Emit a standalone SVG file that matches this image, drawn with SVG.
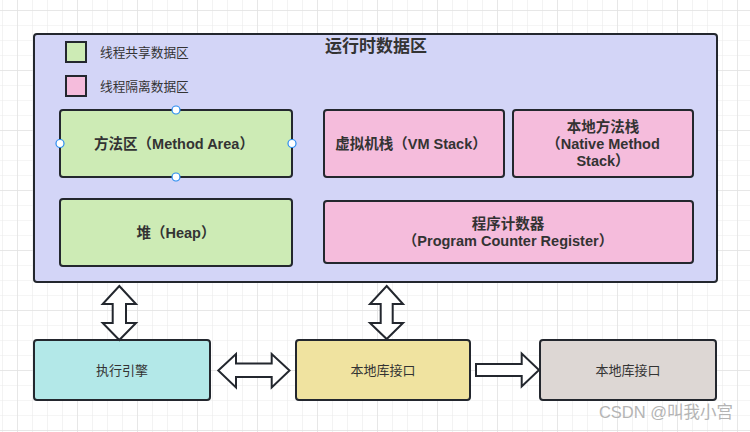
<svg xmlns="http://www.w3.org/2000/svg" width="750" height="432" viewBox="0 0 750 432">
<style>
.box{stroke:#23272e;stroke-width:2}
.arr{fill:#ffffff;stroke:#23272e;stroke-width:2;stroke-linejoin:miter}
.t{font-family:"Liberation Sans","Noto Sans CJK SC",sans-serif;fill:#333333;text-anchor:middle;dominant-baseline:central}
.b{font-weight:bold;font-size:14.5px}
.r{font-size:13px}
.lg{font-family:"Liberation Sans","Noto Sans CJK SC",sans-serif;fill:#333333;font-size:12.7px;dominant-baseline:central}
.h{fill:#ffffff;stroke:#2a8cf0;stroke-width:1.2}
</style>
<defs>
<pattern id="grid" x="2" y="10" width="15" height="15" patternUnits="userSpaceOnUse">
<path d="M0 0H15M0 0V15" fill="none" stroke="#ebebeb" stroke-width="1.2"/>
</pattern>
<pattern id="grid2" x="17" y="10" width="60" height="60" patternUnits="userSpaceOnUse">
<path d="M0 0H60M0 0V60" fill="none" stroke="#e2e2e2" stroke-width="1.4"/>
</pattern>
</defs>
<rect width="750" height="432" fill="#ffffff"/>
<rect width="750" height="432" fill="url(#grid)"/>
<rect width="750" height="432" fill="url(#grid2)"/>

<g id="runtime-data-area">
<rect class="box" x="34" y="34" width="683" height="248" rx="3" fill="#d3d5f7"/>
<text class="t" x="376" y="46" font-size="17" font-weight="bold">运行时数据区</text>
</g>

<g id="legend-shared">
<rect class="box" x="66" y="42" width="20" height="20" fill="#cdebb5"/>
<text class="lg" x="100" y="53">线程共享数据区</text>
</g>
<g id="legend-isolated">
<rect class="box" x="66" y="76" width="20" height="20" fill="#f5bcdc"/>
<text class="lg" x="100" y="87">线程隔离数据区</text>
</g>

<g id="method-area">
<rect class="box" x="60" y="110" width="232" height="67" rx="3" fill="#cdebb5"/>
<text class="t b" x="174" y="143.5">方法区（Method Area）</text>
<circle class="h" cx="176" cy="110" r="4"/>
<circle class="h" cx="60" cy="143.5" r="4"/>
<circle class="h" cx="292" cy="143.5" r="4"/>
<circle class="h" cx="176" cy="177" r="4"/>
</g>

<g id="vm-stack">
<rect class="box" x="324" y="110" width="180" height="67" rx="3" fill="#f5bcdc"/>
<text class="t b" x="411" y="143.5">虚拟机栈（VM Stack）</text>
</g>

<g id="native-method-stack">
<rect class="box" x="513" y="110" width="180" height="67" rx="3" fill="#f5bcdc"/>
<text class="t b" x="603" y="127">本地方法栈</text>
<text class="t b" x="603" y="144">（Native Method</text>
<text class="t b" x="603" y="161">Stack）</text>
</g>

<g id="heap">
<rect class="box" x="60" y="199" width="232" height="67" rx="3" fill="#cdebb5"/>
<text class="t b" x="176" y="232.5">堆（Heap）</text>
</g>

<g id="pc-register">
<rect class="box" x="324" y="201" width="369" height="62" rx="3" fill="#f5bcdc"/>
<text class="t b" x="508" y="224">程序计数器</text>
<text class="t b" x="508" y="241">（Program Counter Register）</text>
</g>

<g id="execution-engine">
<rect class="box" x="34" y="340" width="176" height="60" rx="3" fill="#b3e8e8"/>
<text class="t r" x="122" y="370">执行引擎</text>
</g>

<g id="native-interface">
<rect class="box" x="296" y="340" width="174" height="60" rx="3" fill="#f0e3a0"/>
<text class="t r" x="383" y="370">本地库接口</text>
</g>

<g id="native-library">
<rect class="box" x="540" y="340" width="176" height="60" rx="3" fill="#ddd7d4"/>
<text class="t r" x="628" y="370">本地库接口</text>
</g>

<g id="connectors">
<path class="arr" d="M119.3 286 L136 304 L126 304 L126 323 L136 323 L119.3 340 L102.7 323 L112.7 323 L112.7 304 L102.7 304 Z"/>
<path class="arr" d="M386.7 286 L403 304 L392.7 304 L392.7 323 L403 323 L386.7 339 L370 323 L380.7 323 L380.7 304 L370 304 Z"/>
<path class="arr" d="M218.3 370.5 L236 354 L236 363.5 L271.7 363.5 L271.7 354 L289.5 370.5 L271.7 387.5 L271.7 377 L236 377 L236 387.5 Z"/>
<path class="arr" d="M476 364 L521.7 364 L521.7 353.5 L539 370 L521.7 386.5 L521.7 376 L476 376 Z"/>
</g>

<text x="666" y="412" font-family="Liberation Sans,'Noto Sans CJK SC',sans-serif" font-size="16.5" fill="#b4b4b4" text-anchor="middle" dominant-baseline="central">CSDN @叫我小宫</text>
</svg>
